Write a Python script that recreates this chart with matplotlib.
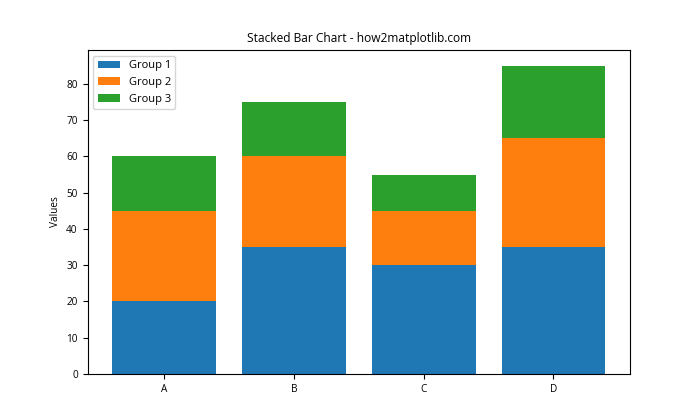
import matplotlib
matplotlib.use("Agg")
import matplotlib.pyplot as plt
import numpy as np

plt.rcParams['font.family'] = ['Open Sans', 'DejaVu Sans']
plt.rcParams['font.size'] = 7.2

categories = ['A', 'B', 'C', 'D']
group1 = [20, 35, 30, 35]
group2 = [25, 25, 15, 30]
group3 = [15, 15, 10, 20]

fig, ax = plt.subplots(figsize=(7, 4.2), dpi=100)
ax.bar(categories, group1, label='Group 1')
ax.bar(categories, group2, bottom=group1, label='Group 2')
b2 = np.array(group1) + np.array(group2)
ax.bar(categories, group3, bottom=b2, label='Group 3')
ax.set_title('Stacked Bar Chart - how2matplotlib.com')
ax.set_ylabel('Values')
ax.legend(loc='upper left', fontsize=8)
fig.savefig('out.png', dpi=100)
